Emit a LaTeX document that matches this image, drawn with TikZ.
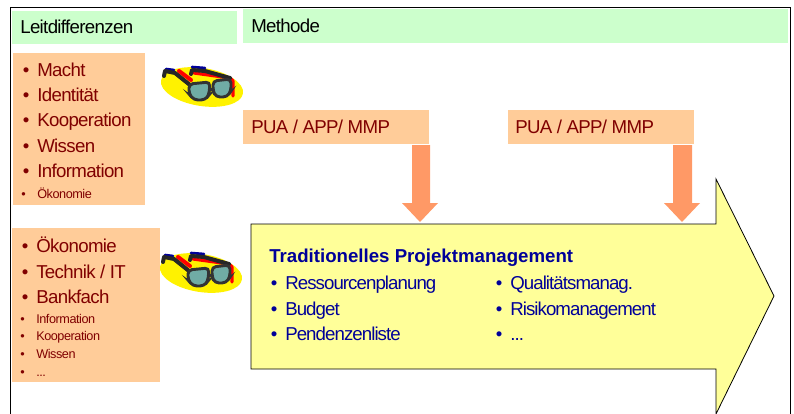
\documentclass[tikz,border=0pt]{standalone}
\usepackage{fontspec}
\setmainfont[LetterSpace=-3.5]{Liberation Sans}
\newfontfamily\bluefont[LetterSpace=-5]{Liberation Sans}
\newfontfamily\titlefont{Liberation Sans}
\definecolor{headgreen}{RGB}{204,255,204}
\definecolor{boxorange}{RGB}{255,204,153}
\definecolor{arroworange}{RGB}{255,153,102}
\definecolor{arrowyellow}{RGB}{255,255,153}
\definecolor{darkred}{RGB}{128,0,0}
\definecolor{darkblue}{RGB}{0,0,153}
\definecolor{lensteal}{RGB}{112,172,165}
\newcommand{\bul}[1]{\llap{\textbullet\hskip 5.9pt}#1}
\newcommand{\smallbul}[1]{\llap{\textbullet\hskip 8.6pt}#1}
\tikzset{
  txt/.style={anchor=base west,inner sep=0pt,font=\fontsize{14}{14}\selectfont},
  redbig/.style={txt,text=darkred},
  redsmall/.style={txt,text=darkred,font=\fontsize{9.5}{9.5}\selectfont},
  bluebig/.style={txt,text=darkblue,font=\fontsize{14}{14}\bluefont},
  headbox/.style={fill=headgreen,draw=none},
  orangebox/.style={fill=boxorange,draw=none},
  downarrow/.style={fill=arroworange,draw=none},
  rim/.style={line width=3pt,line cap=round,line join=round},
  pics/glasses/.style={code={
    \fill [yellow,rotate=9] (0,0) ellipse (41.5 and 19);
    % shadow
    \draw [rim,red] (-23,-16) -- (-11,-7);
    \draw [rim,red,line width=2.4pt] (-8,-14) -- (28,-9) -- (31,-6) -- (31,9);
    \draw [rim,blue!60!black,line width=2pt] (-36,-18) -- (-28,-17);
    \draw [rim,blue!60!black,line width=2pt] (-10,-20) -- (3,-19);
    % temples
    \draw [rim,black!85] (-38,-11) -- (-37,-16) -- (-27,-14) -- (-12,-2);
    \draw [rim,black!85] (-11,-13) -- (-10,-17) -- (3,-16) -- (28,-9);
    % lenses
    \draw [black!80,fill=lensteal,line width=2.2pt,rounded corners=3pt] (-13,-3) -- (8,-5) -- (7,8) -- (3,13) -- (-8,13) -- (-13,7) -- cycle;
    \draw [black!80,fill=lensteal,line width=2.2pt,rounded corners=3pt] (11,-6) -- (29,-8) -- (29,4) -- (25,10) -- (14,10) -- (11,4) -- cycle;
  }}
}
\begin{document}
\begin{tikzpicture}[x=0.75pt,y=0.75pt,yscale=-1,xscale=1]
\useasboundingbox (0,0) rectangle (794,414);

%Frame
\draw [line width=1.1pt] (10.5,414) -- (10.5,7.5) -- (790.5,7.5) -- (790.5,414);

%Header bars
\draw [headbox] (12,11) rectangle (237,44);
\draw [headbox] (243,9) rectangle (788,43);
%Orange panels
\draw [orangebox] (13,53) rectangle (145,205);
\draw [orangebox] (12,228) rectangle (160,382);
\draw [orangebox] (243,110) rectangle (429,144);
\draw [orangebox] (508,110) rectangle (694,144);

%Big arrow
\draw [fill=arrowyellow,line width=0.6pt] (251,224) -- (716,224) -- (716,179) -- (774,296) -- (716,414) -- (716,369) -- (251,369) -- cycle;
%Down arrows
\draw [downarrow] (412,145) -- (430,145) -- (430,203) -- (438,203) -- (420,222) -- (402,203) -- (412,203) -- cycle;
\draw [downarrow] (673,145) -- (692,145) -- (692,203) -- (700,203) -- (682,222) -- (664,203) -- (673,203) -- cycle;

%Glasses
\pic [yscale=-1] at (202,87) {glasses};
\pic [yscale=-1] at (201,273) {glasses};

% Text Node
\draw (20,33.5) node [txt] (leit) {Leitdifferenzen};
\draw (251,32.5) node [txt] (methode) {Methode};
\draw (251,133) node [redbig] (puaa) {PUA / APP/ MMP};
\draw (515,133) node [redbig] (puab) {PUA / APP/ MMP};

% Text Node
\draw (37,76) node [redbig] (macht) {\bul{Macht}};
\draw (37,101) node [redbig] (identitaet) {\bul{Identität}};
\draw (37,126.5) node [redbig] (kooperationa) {\bul{Kooperation}};
\draw (37,152) node [redbig] (wissena) {\bul{Wissen}};
\draw (37,177.5) node [redbig] (informationa) {\bul{Information}};
\draw (37,198) node [redsmall] (oekonomiea) {\smallbul{Ökonomie}};

% Text Node
\draw (36,252.5) node [redbig] (oekonomieb) {\bul{Ökonomie}};
\draw (36,278) node [redbig] (technik) {\bul{Technik / IT}};
\draw (36,303) node [redbig] (bankfach) {\bul{Bankfach}};
\draw (36,323) node [redsmall] (informationb) {\smallbul{Information}};
\draw (36,340) node [redsmall] (kooperationb) {\smallbul{Kooperation}};
\draw (36,358) node [redsmall] (wissenb) {\smallbul{Wissen}};
\draw (36,376) node [redsmall] (dotsa) {\smallbul{...}};

% Text Node
\draw (269,262) node [bluebig,font=\fontsize{14}{14}\titlefont\bfseries] (titel) {Traditionelles Projektmanagement};
\draw (285,289) node [bluebig] (ressourcen) {\bul{Ressourcenplanung}};
\draw (285,315) node [bluebig] (budget) {\bul{Budget}};
\draw (285,340) node [bluebig] (pendenzen) {\bul{Pendenzenliste}};
\draw (510,289) node [bluebig] (qualitaet) {\bul{Qualitätsmanag.}};
\draw (510,315) node [bluebig] (risiko) {\bul{Risikomanagement}};
\draw (510,340) node [bluebig] (dotsb) {\bul{...}};

\end{tikzpicture}
\end{document}
